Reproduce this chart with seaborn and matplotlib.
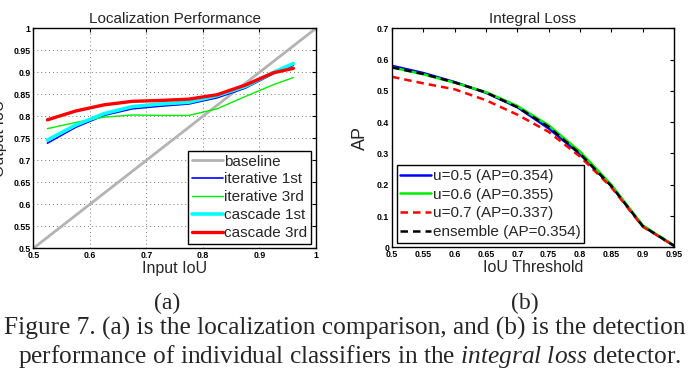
import numpy as np
import pandas as pd
import matplotlib
matplotlib.use("Agg")
import matplotlib.pyplot as plt
import seaborn as sns

# (a) localization performance
input_iou = [0.525, 0.575, 0.625, 0.675, 0.725, 0.775, 0.825, 0.875, 0.925, 0.96]
iter_1st = [0.739, 0.775, 0.802, 0.817, 0.823, 0.828, 0.842, 0.864, 0.897, 0.916]
iter_3rd = [0.772, 0.786, 0.798, 0.803, 0.802, 0.802, 0.817, 0.845, 0.872, 0.888]
casc_1st = [0.746, 0.780, 0.806, 0.822, 0.828, 0.832, 0.847, 0.868, 0.900, 0.920]
casc_3rd = [0.792, 0.812, 0.826, 0.834, 0.836, 0.839, 0.849, 0.871, 0.899, 0.909]
baseline_x = [0.5, 1.0]

# (b) integral loss
iou_thr = [0.5, 0.55, 0.6, 0.65, 0.7, 0.75, 0.8, 0.85, 0.9, 0.95]
ap_u05 = [0.580, 0.557, 0.528, 0.494, 0.448, 0.380, 0.298, 0.196, 0.068, 0.005]
ap_u06 = [0.575, 0.553, 0.526, 0.496, 0.452, 0.390, 0.306, 0.200, 0.070, 0.006]
ap_u07 = [0.545, 0.524, 0.505, 0.470, 0.424, 0.369, 0.290, 0.192, 0.066, 0.005]
ap_ens = [0.575, 0.554, 0.527, 0.495, 0.448, 0.385, 0.299, 0.196, 0.068, 0.005]

sns.set_style("white")
plt.rcParams['font.family'] = ['Liberation Sans', 'DejaVu Sans']
plt.rcParams['mathtext.fontset'] = 'custom'
plt.rcParams['mathtext.it'] = 'Liberation Serif:italic'
plt.rcParams['mathtext.rm'] = 'Liberation Serif'

fig = plt.figure(figsize=(6.93, 3.86), dpi=100)
W, H = 693, 386
ax1 = fig.add_axes([33.3 / W, 1 - 248.3 / H, 282.7 / W, 220 / H])
ax2 = fig.add_axes([392 / W, 1 - 247.3 / H, 282 / W, 219 / H])

def matlab_axes(ax):
    for s in ax.spines.values():
        s.set_visible(True)
        s.set_color('black')
        s.set_linewidth(1.0)
    ax.tick_params(direction='in', length=3, width=0.8, top=True, right=True,
                   labelsize=6.3, pad=2, colors='black')
    for lab in ax.get_xticklabels() + ax.get_yticklabels():
        lab.set_fontweight('bold')

def fmt(v):
    return ('%g' % v)

# left panel
sns.lineplot(x=baseline_x, y=baseline_x, ax=ax1, color=(0.7, 0.7, 0.7), lw=2, label='baseline')
sns.lineplot(x=input_iou, y=iter_1st, ax=ax1, color='#0000ff', lw=1.2, label='iterative 1st')
sns.lineplot(x=input_iou, y=iter_3rd, ax=ax1, color='#00ee00', lw=1.0, label='iterative 3rd')
sns.lineplot(x=input_iou, y=casc_1st, ax=ax1, color='#00ffff', lw=2.6, label='cascade 1st')
sns.lineplot(x=input_iou, y=casc_3rd, ax=ax1, color='#ff0000', lw=2.4, label='cascade 3rd')
ax1.set_xlim(0.5, 1)
ax1.set_ylim(0.5, 1)
xt1 = [0.5, 0.6, 0.7, 0.8, 0.9, 1.0]
yt1 = [0.5, 0.55, 0.6, 0.65, 0.7, 0.75, 0.8, 0.85, 0.9, 0.95, 1.0]
ax1.set_xticks(xt1, [fmt(v) for v in xt1])
ax1.set_yticks(yt1, [fmt(v) for v in yt1])
ax1.grid(True, linestyle=(0, (1, 3)), color='#777777', lw=0.7)
matlab_axes(ax1)
ax1.set_title('Localization Performance', fontsize=11, pad=4)
ax1.set_xlabel('Input IoU', fontsize=11.5, labelpad=1)
ax1.set_ylabel('')
fig.text(0 / W, 1 - 138 / H, 'Output IoU', rotation=90, fontsize=11.5,
         ha='center', va='center')
leg1 = ax1.legend(loc='lower right', fontsize=11, handlelength=2.0, handletextpad=0.12,
                  borderpad=0.25, labelspacing=0.25, borderaxespad=0.3,
                  fancybox=False, framealpha=1, edgecolor='black')
leg1.get_frame().set_linewidth(1.0)

# right panel
sns.lineplot(x=iou_thr, y=ap_u05, ax=ax2, color='#0000ff', lw=1.8, label='u=0.5 (AP=0.354)')
sns.lineplot(x=iou_thr, y=ap_u06, ax=ax2, color='#00ee00', lw=1.8, label='u=0.6 (AP=0.355)')
sns.lineplot(x=iou_thr, y=ap_u07, ax=ax2, color='#ff0000', lw=1.8, linestyle=(0, (3, 2)),
             label='u=0.7 (AP=0.337)')
sns.lineplot(x=iou_thr, y=ap_ens, ax=ax2, color='black', lw=1.8, linestyle=(0, (3, 2)),
             label='ensemble (AP=0.354)')
ax2.set_xlim(0.5, 0.95)
ax2.set_ylim(0, 0.7)
xt2 = [0.5, 0.55, 0.6, 0.65, 0.7, 0.75, 0.8, 0.85, 0.9, 0.95]
yt2 = [0, 0.1, 0.2, 0.3, 0.4, 0.5, 0.6, 0.7]
ax2.set_xticks(xt2, [fmt(v) for v in xt2])
ax2.set_yticks(yt2, [fmt(v) for v in yt2])
matlab_axes(ax2)
ax2.set_title('Integral Loss', fontsize=11, pad=4)
ax2.set_xlabel('IoU Threshold', fontsize=11.5, labelpad=1)
ax2.set_ylabel('AP', fontsize=13, labelpad=6)
leg2 = ax2.legend(loc='lower left', fontsize=11, handlelength=2.0, handletextpad=0.12,
                  borderpad=0.25, labelspacing=0.3, borderaxespad=0.3,
                  fancybox=False, framealpha=1, edgecolor='black')
leg2.get_frame().set_linewidth(1.0)

# captions
serif = ['Liberation Serif', 'DejaVu Serif']
fig.text(167 / W, 1 - 303 / H, '(a)', family=serif, fontsize=17, ha='center', va='center')
fig.text(525 / W, 1 - 303 / H, '(b)', family=serif, fontsize=17, ha='center', va='center')
fig.text(4 / W, 1 - 328 / H, 'Figure 7. (a) is the localization comparison, and (b) is the detection',
         family=serif, fontsize=18.3, ha='left', va='center')
fig.text(350 / W, 1 - 357 / H,
         'performance of individual classifiers in the $\\it{integral\\ loss}$ detector.',
         family=serif, fontsize=18.3, ha='center', va='center')

fig.savefig('out.png', dpi=100)
